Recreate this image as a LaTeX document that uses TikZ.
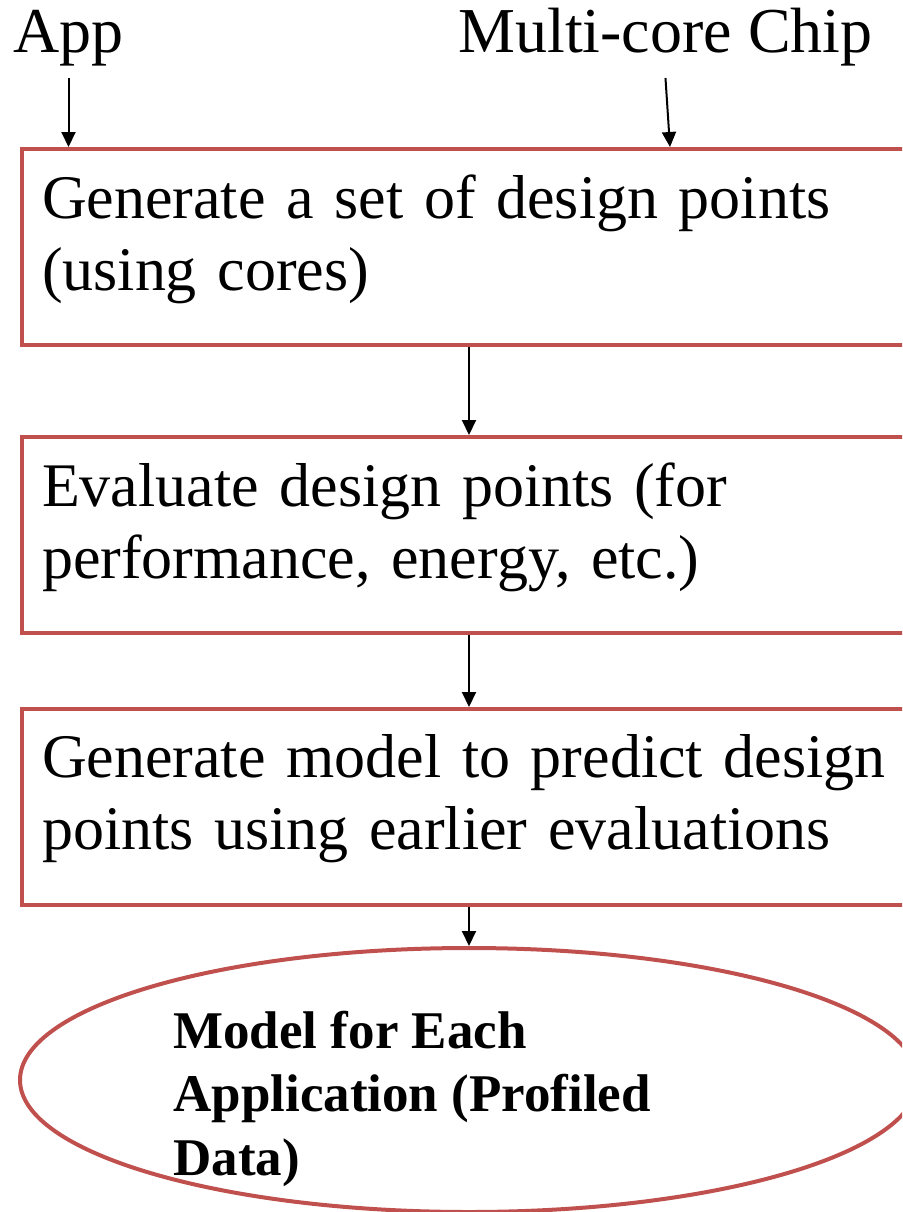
\documentclass[tikz,border=0pt]{standalone}
\usepackage{fontspec}
\setmainfont{Liberation Serif}
\usetikzlibrary{shapes.geometric,arrows.meta}
\definecolor{boxline}{RGB}{192,80,77}
\tikzset{
  inlab/.style={font=\fontsize{32}{36.5}\selectfont,inner sep=6pt,anchor=base west},
  stepbox/.style={draw=boxline,line width=2pt,rectangle,anchor=north west,minimum width=470pt,
    minimum height=98pt,text width=450pt,align=left,inner xsep=10pt,
    execute at end node={\par\vspace{8pt}},font=\fontsize{31}{36}\selectfont},
  result/.style={draw=boxline,line width=2pt,ellipse,minimum width=449pt,minimum height=132pt},
  restext/.style={font=\bfseries\fontsize{26.5}{31.75}\selectfont,align=left,anchor=base west,inner sep=0pt},
  arr/.style={-{Triangle[width=7pt,length=7.5pt]},line width=1pt},
}
\begin{document}
\begin{tikzpicture}[x=0.5pt,y=-0.5pt]
  \useasboundingbox (0,0) rectangle (902,1212);
  \clip (0,0) rectangle (902,1212);
  % inputs
  \node[inlab] (app) at (1,52) {App};
  \node[inlab] (chip) at (446,52) {Multi-core Chip};
  % steps
  \node[stepbox] (gen) at (20,147) {Generate a set of design points\\(using cores)};
  \node[stepbox] (eval) at (20,435) {Evaluate design points (for\\performance, energy, etc.)};
  \node[stepbox] (predict) at (20,707) {Generate model to predict design\\points using earlier evaluations};
  % output
  \node[result] (model) at (469,1080) {};
  \node[restext] (modeltxt) at (173,1175) {Model for Each\\Application (Profiled\\Data)};
  \coordinate (chipin) at (670,147);
  \draw[arr] (app.south) -- (app.south |- gen.north);
  \draw[arr] (chip.south) -- (chipin);
  \draw[arr] (gen.south -| model.north) -- (eval.north -| model.north);
  \draw[arr] (eval.south -| model.north) -- (predict.north -| model.north);
  \draw[arr] (predict.south -| model.north) -- (model.north);
\end{tikzpicture}
\end{document}
